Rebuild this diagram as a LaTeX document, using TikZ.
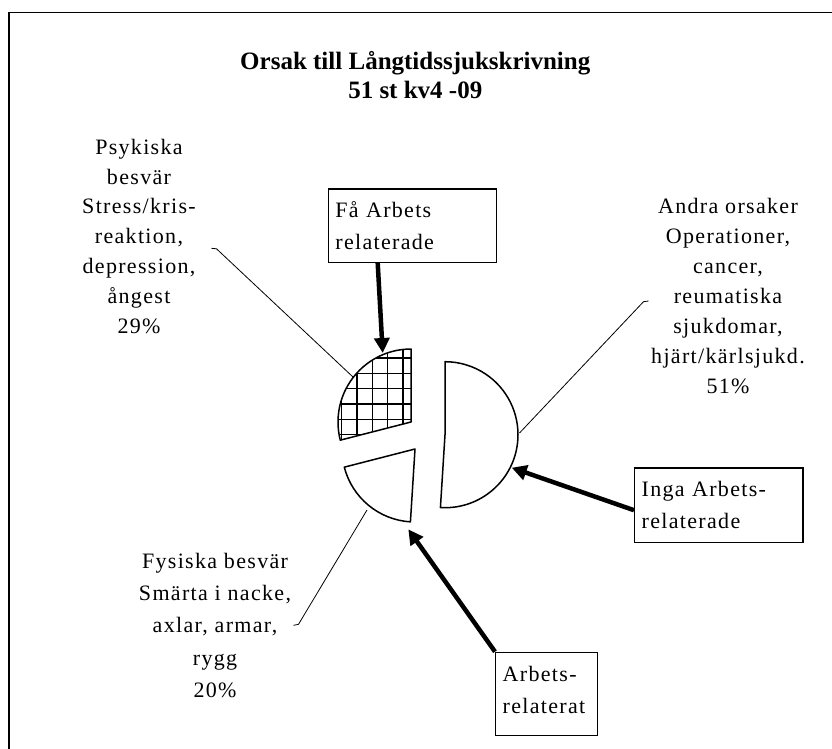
\documentclass[tikz,border=0pt]{standalone}
\usepackage{fontspec}
\setmainfont{Liberation Serif}
\newfontfamily\bodyfont{Liberation Serif}[LetterSpace=6]
\usetikzlibrary{arrows.meta,calc}
\begin{document}
\begin{tikzpicture}[x=1pt,y=-1pt,
  txt/.style={font=\bodyfont\fontsize{22}{29.8}\selectfont, align=center, inner sep=0pt, anchor=base},
  boxst/.style={draw, line width=1.4pt, font=\bodyfont\fontsize{22}{32}\selectfont, align=left, inner xsep=7pt, inner ysep=0pt, anchor=north west},
  arr/.style={line width=4.5pt, -{Triangle[length=15pt,width=15pt]}},
  lead/.style={line width=0.8pt},
  piece/.style={line width=1.5pt, line join=round},
  hatch/.style={line width=1.3pt},
]
\useasboundingbox (0,0) rectangle (832,749);
\fill[white] (0,0) rectangle (832,749);
% frame
\draw[line width=1.3pt] (9,749) -- (9,12.3) -- (832,12.3);

% title (base anchor = baseline of last line)
\node[font=\bfseries\fontsize{25}{29}\selectfont, align=center, anchor=base, inner sep=0pt] (title) at (415.3,98.3) {Orsak till Långtidssjukskrivning\\51 st kv4 -09};

% pie vertices
\coordinate (hv) at (411,422);
\coordinate (fv) at (415,449);
\coordinate (av) at (445,434.7);

% hatched piece (Psykiska 29%)
\begin{scope}
  \clip (hv) -- ++(-90:73) arc[start angle=-90,end angle=-194.4,radius=73] -- cycle;
  \foreach \x in {326.4,341.7,357,372.3,387.6,402.9,418.2}
    \draw[hatch] (\x,340) -- (\x,450);
  \foreach \y in {342.7,358,373.3,388.6,403.9,419.2,434.5}
    \draw[hatch] (320,\y) -- (425,\y);
\end{scope}
\draw[piece] (hv) -- ++(-90:73) arc[start angle=-90,end angle=-194.4,radius=73] -- cycle;
% Fysiska 20%
\draw[piece] (fv) -- ++(-194.4:73) arc[start angle=-194.4,end angle=-266.4,radius=73] -- cycle;
% Andra 51%
\draw[piece] (av) -- ++(-266.4:73) arc[start angle=-266.4,end angle=-450,radius=73] -- cycle;

% labels (base anchor = baseline of last line)
\node[txt] (psyk) at (139,333.1) {Psykiska\\besvär\\Stress/kris-\\reaktion,\\depression,\\ångest\\29\%};
\node[txt, font=\bodyfont\fontsize{22}{29.95}\selectfont] (andra) at (728,393) {Andra orsaker\\Operationer,\\cancer,\\reumatiska\\sjukdomar,\\hjärt/kärlsjukd.\\51\%};
\node[txt, font=\bodyfont\fontsize{22}{32.3}\selectfont] (fys) at (215,697.5) {Fysiska besvär\\Smärta i nacke,\\axlar, armar,\\rygg\\20\%};

% leader lines
\coordinate (psykA) at (211.5,248.3);
\coordinate (psykB) at (216.5,248.8);
\coordinate (psykP) at (353,377);
\draw[lead] (psykA) -- (psykB) -- (psykP);
\coordinate (andraA) at (648.5,301);
\coordinate (andraB) at (643.5,301.7);
\coordinate (andraP) at (519.5,433);
\draw[lead] (andraA) -- (andraB) -- (andraP);
\coordinate (fysA) at (293.5,625.3);
\coordinate (fysB) at (298.5,624.3);
\coordinate (fysP) at (367,510);
\draw[lead] (fysA) -- (fysB) -- (fysP);

% boxes
\node[boxst, text width=154pt, minimum height=73.4pt] (fabox) at (327.7,188.3) {Få Arbets\\relaterade};
\node[boxst, text width=154.3pt, minimum height=74.4pt] (ingabox) at (634,467.3) {Inga Arbets-\\relaterade};
\node[boxst, text width=87.7pt, minimum height=83.3pt] (arbbox) at (495,651.7) {Arbets-\\relaterat\rule[-8pt]{0pt}{0pt}};

% arrows
\coordinate (faTip) at (382.7,353);
\coordinate (ingaTip) at (511.7,467.7);
\coordinate (arbTip) at (408.3,529.3);
\draw[arr] ($(fabox.south west)+(50,0)$) -- (faTip);
\draw[arr] ($(ingabox.west)+(0,5)$) -- (ingaTip);
\draw[arr] (arbbox.north west) -- (arbTip);
\end{tikzpicture}
\end{document}
